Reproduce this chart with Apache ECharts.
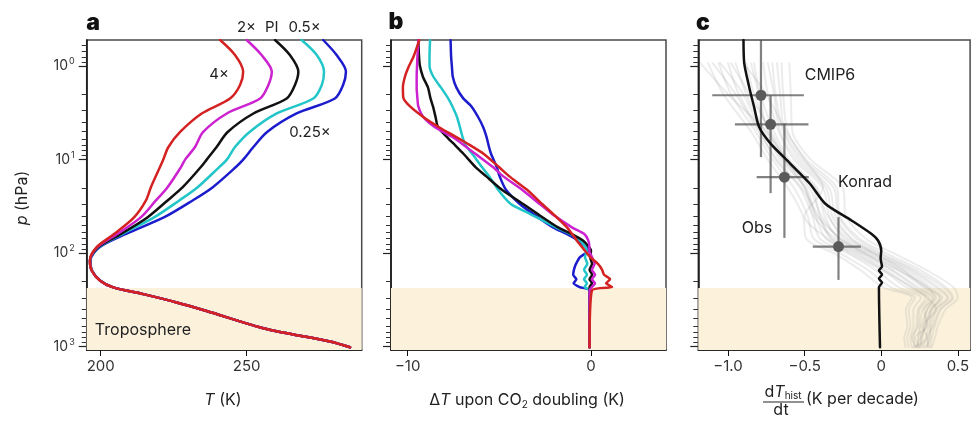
<!DOCTYPE html>
<html><head><meta charset="utf-8">
<script src="https://cdn.jsdelivr.net/npm/echarts@6/dist/echarts.min.js"></script>
<style>html,body{margin:0;padding:0;background:#fff}#c{width:972px;height:433px}</style>
</head><body><div id="c"></div>
<script>
// ---------- DATA ----------
// Panel a: temperature profiles (K) at pressure levels (hPa)
const pLevelsA = [0.526, 0.762, 1.15, 1.6, 2.22, 3.21, 5.06, 7.33, 10, 12, 19.7, 27.3, 41.2, 62.1, 86.3, 120, 153, 197, 232, 274, 336, 412, 647, 879, 1013];
const tempBlue    = [276.2, 280.8, 284.0, 283.0, 280.2, 267.1, 257.0, 252.3, 248.8, 246.3, 238.4, 231.5, 221.8, 208.7, 199.6, 196.5, 197.0, 199.9, 204.3, 214.6, 226.0, 236.0, 256.8, 278.5, 285.4];
const tempCyan    = [268.8, 274.0, 276.5, 275.7, 272.8, 260.3, 251.0, 246.0, 243.2, 240.6, 233.2, 226.9, 218.4, 207.5, 199.3, 196.4, 197.0, 199.9, 204.3, 214.6, 226.0, 236.0, 256.8, 278.5, 285.4];
const tempBlack   = [259.7, 264.8, 267.7, 266.5, 263.7, 252.3, 243.5, 239.7, 236.3, 234.3, 228.1, 222.9, 216.1, 207.0, 199.1, 196.3, 196.9, 199.8, 204.3, 214.6, 226.0, 236.0, 256.8, 278.5, 285.4];
const tempMagenta = [250.0, 255.1, 258.6, 257.4, 254.6, 243.2, 235.1, 232.3, 228.9, 227.5, 222.9, 218.9, 213.8, 205.8, 198.8, 196.3, 196.9, 199.8, 204.3, 214.6, 226.0, 236.0, 256.8, 278.5, 285.4];
const tempRed     = [240.9, 246.0, 248.8, 247.7, 244.3, 234.6, 227.2, 223.2, 221.4, 220.3, 217.2, 215.5, 211.5, 204.7, 198.6, 196.3, 196.9, 199.8, 204.3, 214.6, 226.0, 236.0, 256.8, 278.5, 285.4];

// Panel b: temperature change upon CO2 doubling (K)
const pLevelsB = [0.53, 0.8, 1.0, 1.3, 1.7, 2.2, 2.7, 3.5, 4.5, 5.7, 7.0, 8.6, 12, 15, 21, 30, 38, 53, 62, 73, 86, 94, 110, 130, 150, 170, 190, 210, 230, 250, 1013];
const dtBlue    = [-7.66, -7.63, -7.59, -7.54, -7.34, -6.98, -6.52, -6.16, -5.88, -5.70, -5.59, -5.46, -5.14, -4.99, -4.64, -3.87, -3.16, -2.07, -1.36, -0.71, -0.27, -0.14, -0.60, -0.82, -0.93, -0.97, -0.80, -0.95, -0.62, -0.08, -0.08];
const dtCyan    = [-8.78, -8.81, -8.81, -8.60, -8.18, -7.80, -7.56, -7.31, -7.15, -7.01, -6.85, -6.49, -5.95, -5.56, -5.07, -4.36, -3.33, -1.91, -1.15, -0.60, -0.30, -0.23, -0.33, -0.20, -0.38, -0.22, -0.38, -0.22, -0.35, -0.08, -0.08];
const dtBlack   = [-9.42, -9.38, -9.33, -9.17, -8.89, -8.76, -8.62, -8.48, -8.35, -7.87, -7.42, -6.97, -6.30, -5.73, -4.86, -3.68, -2.92, -1.80, -1.09, -0.44, -0.11, 0.00, -0.05, 0.06, -0.08, 0.06, -0.08, 0.06, -0.08, -0.08, -0.08];
const dtMagenta = [-9.42, -9.47, -9.49, -9.51, -9.51, -9.47, -9.42, -9.15, -8.51, -7.58, -6.93, -6.33, -5.35, -4.80, -3.76, -2.78, -2.13, -1.04, -0.38, -0.15, -0.09, -0.09, 0.05, 0.20, 0.05, 0.22, 0.05, 0.22, 0.05, -0.08, -0.08];
const dtRed     = [-9.37, -9.69, -9.93, -10.15, -10.26, -10.23, -9.87, -9.15, -8.29, -7.37, -6.60, -5.88, -5.02, -4.47, -3.49, -2.65, -2.07, -1.31, -1.04, -0.78, -0.49, -0.33, -0.05, 0.38, 0.60, 0.71, 1.04, 0.82, 1.15, 0.05, -0.08];

// Panel c: historical warming trend (K per decade)
const pKonrad = [0.526, 0.935, 1.67, 2.73, 4.47, 6.74, 11.0, 18.1, 29.6, 44.7, 62.1, 73.2, 93.7, 114, 139, 153, 169, 187, 206, 232, 1013];
const vKonrad = [-0.899, -0.894, -0.862, -0.83, -0.797, -0.722, -0.594, -0.465, -0.365, -0.194, -0.065, -0.021, 0.0, -0.004, 0.005, -0.015, 0.005, -0.015, 0.005, -0.015, -0.008];

const pCmip = [0.93, 2, 5, 10, 20, 40, 70, 100, 150, 230, 300, 400, 600, 800, 1013];
const cmipModels = [
  [-1.13, -1.03, -0.85, -0.74, -0.61, -0.51, -0.49, -0.31, -0.14, 0.01, 0.20, 0.16, 0.17, 0.15, 0.16],
  [-1.06, -0.98, -0.82, -0.71, -0.57, -0.48, -0.44, -0.27, -0.09, 0.06, 0.22, 0.18, 0.19, 0.17, 0.18],
  [-1.00, -0.93, -0.79, -0.69, -0.53, -0.45, -0.40, -0.22, -0.04, 0.11, 0.26, 0.21, 0.21, 0.19, 0.20],
  [-0.95, -0.88, -0.76, -0.66, -0.49, -0.43, -0.36, -0.18, 0.01, 0.16, 0.29, 0.24, 0.23, 0.21, 0.22],
  [-0.88, -0.83, -0.73, -0.63, -0.45, -0.40, -0.32, -0.14, 0.06, 0.22, 0.33, 0.27, 0.25, 0.24, 0.24],
  [-0.83, -0.79, -0.70, -0.60, -0.42, -0.37, -0.28, -0.10, 0.11, 0.27, 0.36, 0.30, 0.28, 0.26, 0.26],
  [-0.77, -0.74, -0.67, -0.57, -0.38, -0.34, -0.24, -0.06, 0.16, 0.32, 0.40, 0.33, 0.31, 0.29, 0.28],
  [-0.71, -0.69, -0.64, -0.53, -0.34, -0.30, -0.19, -0.02, 0.20, 0.37, 0.44, 0.36, 0.33, 0.31, 0.30],
  [-0.65, -0.64, -0.61, -0.49, -0.29, -0.27, -0.14, 0.03, 0.25, 0.42, 0.47, 0.39, 0.35, 0.33, 0.32],
  [-0.60, -0.59, -0.58, -0.46, -0.25, -0.23, -0.10, 0.08, 0.29, 0.47, 0.50, 0.42, 0.37, 0.35, 0.33],
  [-1.18, -1.00, -0.75, -0.62, -0.50, -0.44, -0.30, -0.12, 0.10, 0.30, 0.35, 0.28, 0.30, 0.22, 0.25],
  [-0.90, -0.75, -0.62, -0.50, -0.38, -0.50, -0.35, -0.20, 0.00, 0.20, 0.30, 0.36, 0.27, 0.30, 0.21],
  [-1.10, -0.95, -0.80, -0.68, -0.52, -0.41, -0.33, -0.16, 0.03, 0.19, 0.31, 0.25, 0.24, 0.20, 0.23],
  [-0.98, -0.86, -0.72, -0.62, -0.47, -0.39, -0.27, -0.08, 0.13, 0.30, 0.38, 0.32, 0.29, 0.27, 0.27],
  [-0.85, -0.80, -0.74, -0.64, -0.43, -0.35, -0.22, -0.04, 0.18, 0.35, 0.43, 0.35, 0.32, 0.32, 0.29],
  [-0.74, -0.70, -0.66, -0.55, -0.36, -0.32, -0.20, -0.05, 0.14, 0.28, 0.39, 0.33, 0.29, 0.26, 0.25],
  [-1.05, -0.90, -0.78, -0.64, -0.50, -0.42, -0.26, -0.11, 0.07, 0.24, 0.34, 0.30, 0.26, 0.25, 0.23],
  [-0.68, -0.66, -0.63, -0.51, -0.31, -0.28, -0.16, 0.00, 0.22, 0.40, 0.46, 0.38, 0.34, 0.30, 0.31]
];

const obsP      = [2.05, 4.19, 15.4, 85];
const obsV      = [-0.785, -0.722, -0.632, -0.279];
const obsVLow   = [-1.103, -0.955, -0.813, -0.447];
const obsVHigh  = [-0.505, -0.475, -0.473, -0.133];
const obsPLow   = [0.5, 2.05, 4.11, 41.2];
const obsPHigh  = [9.4, 22.8, 68.6, 193];

// axis ticks
const yMajorExp = [0, 1, 2, 3];
const minorMult = [2, 3, 4, 5, 6, 7, 8, 9];
const xTicksA = [200, 250];
const xTicksB = [-10, 0];
const xTicksC = [-1.0, -0.5, 0, 0.5];
const tropopauseP = 235;

// ---------- CHART ----------
const L = Math.log10;
const Y_MIN = -0.279, Y_MAX = 3.035;
const FONT = 'Inter, Roboto, sans-serif';
const minorVals = [];
for (let e = -1; e <= 3; e++) minorMult.forEach(m => { const v = L(m * Math.pow(10, e)); if (v > Y_MIN && v < Y_MAX) minorVals.push(v); });

const grids = [
  { left: 86.7, top: 40, width: 275, height: 310 },
  { left: 391, top: 40, width: 275, height: 310 },
  { left: 698.3, top: 40, width: 275, height: 310 }
].map(g => Object.assign(g, { show: true, borderColor: '#4a4a4a', borderWidth: 1.5, backgroundColor: 'transparent' }));

const xRanges = [[195.2, 289.4], [-10.91, 4.09], [-1.194, 0.58]];
const xTicks = [xTicksA, xTicksB, xTicksC];
const xAxes = xRanges.map((r, i) => ({
  type: 'value', gridIndex: i, min: r[0], max: r[1],
  axisLine: { show: true, onZero: false, lineStyle: { color: '#111', width: 1.5 } },
  axisTick: { show: true, length: 6, customValues: xTicks[i], lineStyle: { color: '#111', width: 1 } },
  axisLabel: { show: true, customValues: xTicks[i], margin: 9, fontSize: 15, color: '#333', fontFamily: FONT,
    formatter: v => (i === 2 ? (v === 0 ? '0' : v.toFixed(1)) : String(v)).replace('-', '\u2212') },
  splitLine: { show: false }
}));

const yAxes = [];
for (let i = 0; i < 3; i++) {
  yAxes.push({
    type: 'value', gridIndex: i, inverse: true, min: Y_MIN, max: Y_MAX, position: 'left',
    axisLine: { show: true, onZero: false, lineStyle: { color: '#111', width: 1.5 } },
    axisTick: { show: true, length: 8, customValues: yMajorExp, lineStyle: { color: '#222', width: 1.2 } },
    axisLabel: { show: i === 0, customValues: yMajorExp, margin: 12, fontFamily: FONT,
      formatter: v => '{b|10}{s|' + v + '}',
      rich: { b: { fontSize: 14, color: '#333', fontFamily: FONT }, s: { fontSize: 9, color: '#333', fontFamily: FONT, padding: [0, 0, 9, 1] } } },
    splitLine: { show: false }
  });
  yAxes.push({
    type: 'value', gridIndex: i, inverse: true, min: Y_MIN, max: Y_MAX, position: 'left',
    axisLine: { show: false, onZero: false },
    axisTick: { show: true, length: 5, customValues: minorVals, lineStyle: { color: '#333', width: 1 } },
    axisLabel: { show: false }, splitLine: { show: false }
  });
}

const series = [];
// shading
for (let i = 0; i < 3; i++) {
  series.push({
    type: 'line', xAxisIndex: i, yAxisIndex: 2 * i, data: [], z: 1, silent: true,
    markArea: { silent: true, itemStyle: { color: '#fcf2dc' }, data: [[{ yAxis: L(tropopauseP) }, { yAxis: Y_MAX }]] }
  });
}
function prof(xs, ps) { return xs.map((x, k) => [x, L(ps[k])]); }
function addLine(i, xs, ps, color, width, smooth, extra) {
  series.push(Object.assign({
    type: 'line', xAxisIndex: i, yAxisIndex: 2 * i, data: prof(xs, ps), showSymbol: false, symbol: 'none',
    smooth: smooth, z: 3, silent: true, animation: false,
    lineStyle: { color: color, width: width, cap: 'round', join: 'round' }
  }, extra || {}));
}
const COL = { blue: '#1c1ccc', cyan: '#22c6c8', black: '#111111', magenta: '#cc22d0', red: '#d42222' };
// a
addLine(0, tempBlue, pLevelsA, COL.blue, 2.5, 0.3);
addLine(0, tempCyan, pLevelsA, COL.cyan, 2.5, 0.3);
addLine(0, tempBlack, pLevelsA, COL.black, 2.5, 0.3);
addLine(0, tempMagenta, pLevelsA, COL.magenta, 2.5, 0.3);
addLine(0, tempRed, pLevelsA, COL.red, 2.5, 0.3);
// b
addLine(1, dtBlue, pLevelsB, COL.blue, 2.5, 0.2);
addLine(1, dtCyan, pLevelsB, COL.cyan, 2.5, 0.2);
addLine(1, dtBlack, pLevelsB, COL.black, 2.5, 0.2);
addLine(1, dtMagenta, pLevelsB, COL.magenta, 2.5, 0.2);
addLine(1, dtRed, pLevelsB, COL.red, 2.5, 0.2);
// c
cmipModels.forEach(m => addLine(2, m, pCmip, 'rgba(140,140,140,0.17)', 2, 0.3, { z: 2 }));
// obs error bars
series.push({
  type: 'custom', xAxisIndex: 2, yAxisIndex: 4, z: 4, silent: true, clip: true,
  data: obsV.map((v, k) => [v, L(obsP[k]), obsVLow[k], obsVHigh[k], L(obsPLow[k]), L(obsPHigh[k])]),
  renderItem: (params, api) => {
    const c = api.coord([api.value(0), api.value(1)]);
    const h0 = api.coord([api.value(2), api.value(1)]);
    const h1 = api.coord([api.value(3), api.value(1)]);
    const v0 = api.coord([api.value(0), api.value(4)]);
    const v1 = api.coord([api.value(0), api.value(5)]);
    const st = { stroke: 'rgba(80,80,80,0.72)', lineWidth: 2.2 };
    return { type: 'group', children: [
      { type: 'line', shape: { x1: h0[0], y1: h0[1], x2: h1[0], y2: h1[1] }, style: st },
      { type: 'line', shape: { x1: v0[0], y1: v0[1], x2: v1[0], y2: v1[1] }, style: st },
      { type: 'circle', shape: { cx: c[0], cy: c[1], r: 5.5 }, style: { fill: '#5a5a5a' } }
    ] };
  }
});
addLine(2, vKonrad, pKonrad, '#111', 2.5, 0.25, { z: 5 });

const txt = (x, y, text, size, opts) => ({ type: 'text', x: x, y: y, z: 100,
  style: Object.assign({ text: text, fontSize: size, fontFamily: FONT, fill: '#222', align: 'center', verticalAlign: 'middle' }, opts || {}) });

const graphic = [
  txt(93, 23, 'a', 23, { fontWeight: 900, fill: '#111' }),
  txt(396, 22, 'b', 23, { fontWeight: 900, fill: '#111' }),
  txt(703, 23, 'c', 23, { fontWeight: 900, fill: '#111' }),
  txt(246.5, 27, '2\u00d7', 15),
  txt(271.7, 27, 'PI', 15),
  txt(304.5, 27, '0.5\u00d7', 15),
  txt(219, 74, '4\u00d7', 15),
  txt(310, 132, '0.25\u00d7', 15),
  txt(143, 330, 'Troposphere', 16),
  txt(830, 75, 'CMIP6', 16),
  txt(865, 182.5, 'Konrad', 16),
  txt(757, 228.5, 'Obs', 16),
  { type: 'text', x: 22, y: 198, rotation: Math.PI / 2, z: 100,
    style: { text: '{i|p} (hPa)', fontSize: 16, fontFamily: FONT, fill: '#222', align: 'center', verticalAlign: 'middle',
      rich: { i: { fontStyle: 'italic', fontSize: 16, fontFamily: FONT, fill: '#222' } } } },
  { type: 'text', x: 223, y: 400, z: 100,
    style: { text: '{i|T} (K)', fontSize: 16, fontFamily: FONT, fill: '#222', align: 'center', verticalAlign: 'middle',
      rich: { i: { fontStyle: 'italic', fontSize: 16, fontFamily: FONT, fill: '#222' } } } },
  { type: 'text', x: 527, y: 400, z: 100,
    style: { text: '\u0394{i|T} upon CO{sub|2} doubling (K)', fontSize: 16, fontFamily: FONT, fill: '#222', align: 'center', verticalAlign: 'middle',
      rich: { i: { fontStyle: 'italic', fontSize: 16, fontFamily: FONT, fill: '#222' },
              sub: { fontSize: 10, fontFamily: FONT, fill: '#222', padding: [9, 0, 0, 0], verticalAlign: 'top' } } } },
  { type: 'text', x: 783, y: 392, z: 100,
    style: { text: 'd{i|T}{sub|hist}', fontSize: 16, fontFamily: FONT, fill: '#222', align: 'center', verticalAlign: 'middle',
      rich: { i: { fontStyle: 'italic', fontSize: 16, fontFamily: FONT, fill: '#222' },
              sub: { fontSize: 10, fontFamily: FONT, fill: '#222', padding: [8, 0, 0, 0], verticalAlign: 'top' } } } },
  { type: 'line', z: 100, shape: { x1: 763, y1: 402, x2: 804, y2: 402 }, style: { stroke: '#222', lineWidth: 1 } },
  txt(781, 410, 'dt', 16),
  txt(806, 399, '(K per decade)', 16, { align: 'left' })
];

const chart = echarts.init(document.getElementById('c'), null, { renderer: 'canvas' });
chart.setOption({ animation: false, backgroundColor: '#fff', grid: grids, xAxis: xAxes, yAxis: yAxes, series: series, graphic: graphic });
</script></body></html>
